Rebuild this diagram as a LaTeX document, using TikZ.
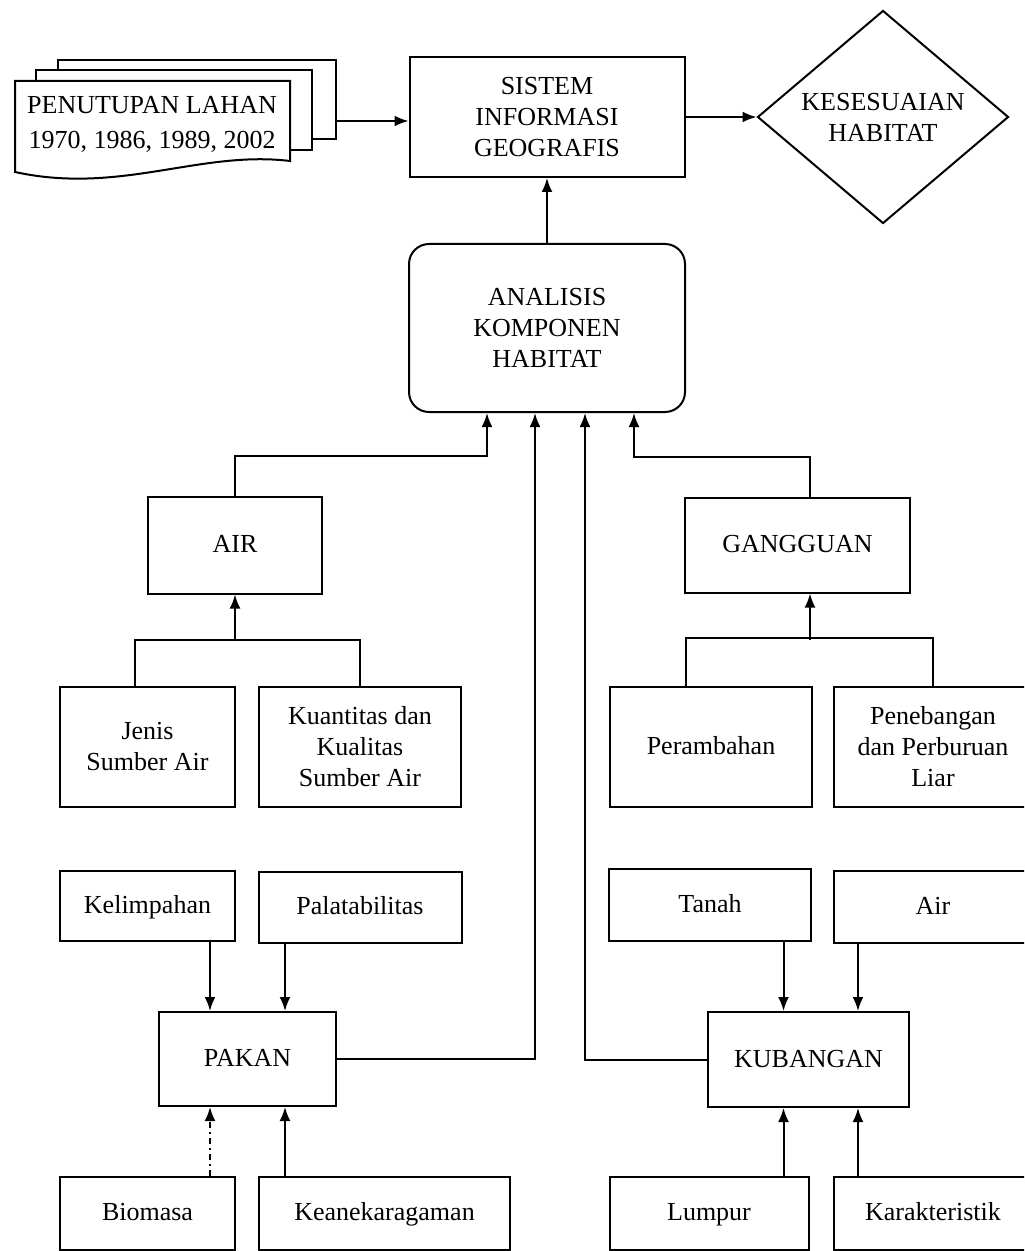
\documentclass[tikz,border=0pt]{standalone}
\usepackage{fontspec}
\setmainfont{Liberation Serif}
\usepackage{tikz}
\usetikzlibrary{arrows.meta,shapes.geometric,calc}

\begin{document}
\begin{tikzpicture}[x=0.5pt,y=-0.5pt,>={Latex[length=7pt,width=5.5pt]},line width=1pt]
	\useasboundingbox (0,0) rectangle (1024,1251);
	\clip (0,0) rectangle (1024,1251);

	\tikzstyle{edge} = [draw,->]
	\tikzset{kotak/.style = {shape=rectangle,draw,align=center,inner sep=1pt,
		font=\fontsize{13}{15.5}\selectfont}}
	\tikzset{satu/.style = {kotak,text height=2ex,text depth=0.35ex}}

	% peta penutupan lahan
	\draw[fill=white] (58,60) rectangle (336,139);
	\draw[fill=white] (36,70) rectangle (312,150);
	\draw[fill=white] (15,81) -- (290,81) -- (290,161)
		.. controls (200,150) and (120,195) .. (15,172) -- cycle;
	\node[align=center,font=\fontsize{13}{17.5}\selectfont] (lahan) at (152,124)
		{PENUTUPAN LAHAN\\1970, 1986, 1989, 2002};
	\coordinate (lahanout) at (336,121);

	\node[kotak,minimum width=137.5pt,minimum height=60pt] (sig) at (547,117) {SISTEM\\INFORMASI\\GEOGRAFIS};
	\node[kotak,shape=diamond,inner sep=0pt,minimum width=125.5pt,minimum height=106.5pt] (hasil) at (883,117) {KESESUAIAN\\HABITAT};
	\node[kotak,rounded corners=10pt,minimum width=138pt,minimum height=84pt] (analisis) at (547,328) {ANALISIS\\KOMPONEN\\HABITAT};

	\node[satu,minimum width=87pt,minimum height=48.5pt] (air) at (235,545) {AIR};
	\node[satu,minimum width=112.5pt,minimum height=47.5pt] (gangguan) at (797.5,545) {GANGGUAN};

	\node[kotak,minimum width=87.5pt,minimum height=60pt] (jenis) at (147.5,747) {Jenis\\Sumber Air};
	\node[kotak,minimum width=101pt,minimum height=60pt] (kuantitas) at (360,747) {Kuantitas dan\\Kualitas\\Sumber Air};
	\node[satu,minimum width=101pt,minimum height=60pt] (perambahan) at (711,747) {Perambahan};
	\node[kotak,minimum width=99pt,minimum height=60pt] (penebangan) at (933,747) {Penebangan\\dan Perburuan\\Liar};

	\node[satu,minimum width=87.5pt,minimum height=35pt] (kelimpahan) at (147.5,906) {Kelimpahan};
	\node[satu,minimum width=101.5pt,minimum height=35.5pt] (palatabilitas) at (360,907) {Palatabilitas};
	\node[satu,minimum width=101pt,minimum height=36pt] (tanah) at (710,905) {Tanah};
	\node[satu,minimum width=99pt,minimum height=36pt] (airkub) at (933,907) {Air};

	\node[satu,minimum width=88.5pt,minimum height=47pt] (pakan) at (247.5,1059) {PAKAN};
	\node[satu,minimum width=100.5pt,minimum height=47.5pt] (kubangan) at (808.5,1059.5) {KUBANGAN};

	\node[satu,minimum width=87.5pt,minimum height=36.5pt] (biomasa) at (147.5,1213) {Biomasa};
	\node[satu,minimum width=125.5pt,minimum height=36.5pt] (keaneka) at (384.5,1213) {Keanekaragaman};
	\node[satu,minimum width=99.5pt,minimum height=36.5pt] (lumpur) at (709,1213) {Lumpur};
	\node[satu,minimum width=99pt,minimum height=36.5pt] (karakter) at (933,1213) {Karakteristik};

	\draw[edge] (lahanout) -- (lahanout -| sig.west);
	\draw[edge] (sig.east) -- (hasil.west);
	\draw[edge] (analisis.north) -- (sig.south);

	\draw[edge] (air.north) -- ++(0,-40) -| ($(analisis.south)+(-60,0)$);
	\draw[edge] ($(gangguan.north)+(12.5,0)$) -- ++(0,-40) -| ($(analisis.south)+(87,0)$);
	\draw[edge] (pakan.east) -| ($(analisis.south)+(-12,0)$);
	\draw[edge] (kubangan.west) -| ($(analisis.south)+(38,0)$);

	\draw ($(jenis.north)+(-12.5,0)$) -- ++(0,-46) -| (kuantitas.north);
	\draw[edge] ($(air.south)+(0,46)$) -- (air.south);
	\draw ($(perambahan.north)+(-25,0)$) -- ++(0,-48) -| (penebangan.north);
	\draw[edge] ($(gangguan.south)+(12.5,46)$) -- ($(gangguan.south)+(12.5,0)$);

	\draw[edge] ($(kelimpahan.south)+(62.5,0)$) -- ($(pakan.north)+(-37.5,0)$);
	\draw[edge] ($(palatabilitas.south)+(-75,0)$) -- ($(pakan.north)+(37.5,0)$);
	\draw[edge, dashdotted] ($(biomasa.north)+(62.5,0)$) -- ($(pakan.south)+(-37.5,0)$);
	\draw[edge] ($(keaneka.north)+(-99.5,0)$) -- ($(pakan.south)+(37.5,0)$);

	\draw[edge] ($(tanah.south)+(73.5,0)$) -- ($(kubangan.north)+(-25,0)$);
	\draw[edge] ($(airkub.south)+(-75,0)$) -- ($(kubangan.north)+(49.5,0)$);
	\draw[edge] ($(lumpur.north)+(74.5,0)$) -- ($(kubangan.south)+(-25,0)$);
	\draw[edge] ($(karakter.north)+(-75,0)$) -- ($(kubangan.south)+(49.5,0)$);
\end{tikzpicture}
\end{document}
